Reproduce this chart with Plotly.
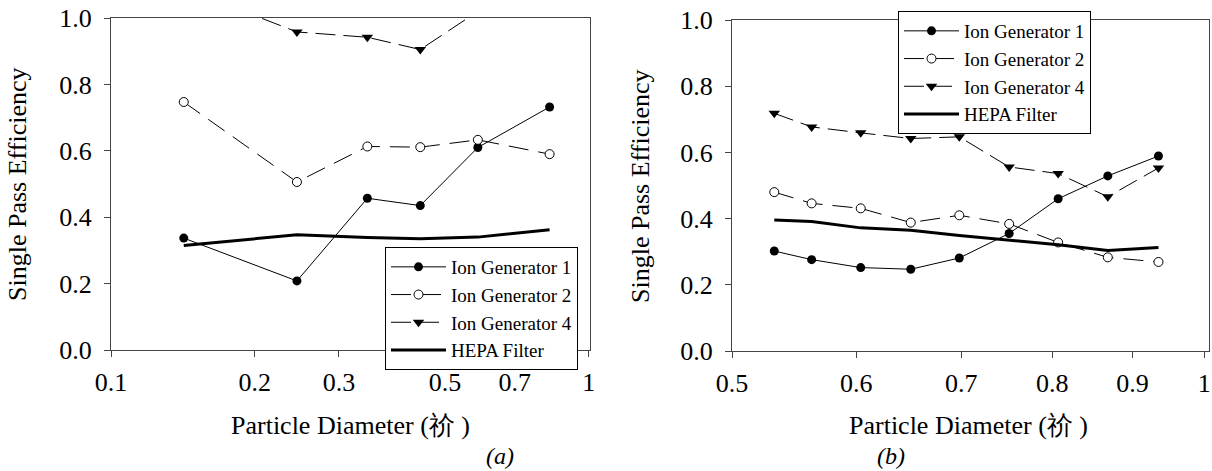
import plotly.graph_objects as go
import math

# ---- data (a) ----
a_diam = [0.142, 0.245, 0.344, 0.444, 0.586, 0.828]
a_ion1 = [0.337, 0.208, 0.457, 0.435, 0.610, 0.732]
a_ion2 = [0.747, 0.506, 0.613, 0.611, 0.633, 0.590]
a_ion4 = [1.09, 0.958, 0.942, 0.905, 1.02, 1.05]
a_hepa = [0.315, 0.347, 0.339, 0.335, 0.340, 0.362]
a_ticks = [0.1, 0.2, 0.3, 0.5, 0.7, 1]
a_ticktext = ["0.1", "0.2", "0.3", "0.5", "0.7", "1"]

# ---- data (b) ----
b_diam = [0.532, 0.562, 0.604, 0.650, 0.698, 0.751, 0.807, 0.868, 0.935]
b_ion1 = [0.302, 0.276, 0.252, 0.247, 0.281, 0.355, 0.460, 0.529, 0.589]
b_ion2 = [0.480, 0.446, 0.431, 0.388, 0.410, 0.384, 0.328, 0.283, 0.269]
b_ion4 = [0.718, 0.677, 0.659, 0.642, 0.647, 0.556, 0.536, 0.466, 0.553]
b_hepa = [0.396, 0.391, 0.372, 0.365, 0.349, 0.336, 0.321, 0.304, 0.313]
b_ticks = [0.5, 0.6, 0.7, 0.8, 0.9, 1]
b_ticktext = ["0.5", "0.6", "0.7", "0.8", "0.9", "1"]

y_ticks = [0.0, 0.2, 0.4, 0.6, 0.8, 1.0]
names = ["Ion Generator 1", "Ion Generator 2", "Ion Generator 4", "HEPA Filter"]

FONT = "Liberation Serif"
W, H = 1212, 471

fig = go.Figure()

def add_series(xs, ys_list, xa, ya, leg):
    styles = [
        dict(mode="lines+markers", line=dict(color="black", width=1),
             marker=dict(symbol="circle", size=9, color="black")),
        dict(mode="lines+markers", line=dict(color="black", width=1, dash="20px,10px"),
             marker=dict(symbol="circle", size=9, color="white", line=dict(color="black", width=1))),
        dict(mode="lines+markers", line=dict(color="black", width=1, dash="20px,8px"),
             marker=dict(symbol="triangle-down", size=10, color="black")),
        dict(mode="lines", line=dict(color="black", width=3)),
    ]
    for nm, ys, st in zip(names, ys_list, styles):
        fig.add_trace(go.Scatter(x=xs, y=ys, name=nm, xaxis=xa, yaxis=ya,
                                 legend=leg, **st))

add_series(a_diam, [a_ion1, a_ion2, a_ion4, a_hepa], "x", "y", "legend")
add_series(b_diam, [b_ion1, b_ion2, b_ion4, b_hepa], "x2", "y2", "legend2")

def px_x(p):
    return p / W

def px_y(p):
    return 1 - p / H

axis_common = dict(showgrid=False, zeroline=False, showline=True, linecolor="#444",
                   linewidth=1, mirror=True, ticks="outside", ticklen=6, tickcolor="#444",
                   automargin=False,
                   tickfont=dict(family=FONT, size=26, color="black"))

fig.update_layout(
    template="none",
    width=W, height=H, margin=dict(l=0, r=0, t=0, b=0),
    paper_bgcolor="white", plot_bgcolor="white",
    font=dict(family=FONT, color="black"),
    xaxis=dict(domain=[px_x(111), px_x(590)], type="log",
               range=[-1, math.log10(1.006)], tickvals=a_ticks, ticktext=a_ticktext,
               anchor="y", ticklabelstandoff=3, **axis_common),
    yaxis=dict(domain=[px_y(350), px_y(18)], range=[0, 1], tickvals=y_ticks,
               tickformat=".1f", anchor="x", ticklabelstandoff=7, **axis_common),
    xaxis2=dict(domain=[px_x(732), px_x(1209)], type="log",
                range=[math.log10(0.5), math.log10(1.007)], tickvals=b_ticks,
                ticktext=b_ticktext, anchor="y2", ticklabelstandoff=3, **axis_common),
    yaxis2=dict(domain=[px_y(351), px_y(20)], range=[0, 1], tickvals=y_ticks,
                tickformat=".1f", anchor="x2", ticklabelstandoff=7, **axis_common),
    legend=dict(x=px_x(385), y=px_y(247), xanchor="left", yanchor="top",
                bgcolor="white", bordercolor="black", borderwidth=1, itemwidth=55,
                font=dict(family=FONT, size=19, color="black"), tracegroupgap=0),
    legend2=dict(x=px_x(898), y=px_y(11), xanchor="left", yanchor="top",
                 bgcolor="white", bordercolor="black", borderwidth=1, itemwidth=55,
                 font=dict(family=FONT, size=19, color="black"), tracegroupgap=0),
    showlegend=True,
)

ann_font = dict(family=FONT, size=26, color="black")
annotations = [
    dict(text="Single Pass Efficiency", x=px_x(17), y=px_y(185), textangle=-90),
    dict(text="Single Pass Efficiency", x=px_x(640), y=px_y(186), textangle=-90),
    dict(text="Particle Diameter (祄 )", x=px_x(350), y=px_y(425)),
    dict(text="Particle Diameter (祄 )", x=px_x(968), y=px_y(425)),
]
for a in annotations:
    fig.add_annotation(xref="paper", yref="paper", showarrow=False,
                       xanchor="center", yanchor="middle", font=ann_font, **a)
for txt, xp in [("<i>(a)</i>", 500), ("<i>(b)</i>", 891)]:
    fig.add_annotation(xref="paper", yref="paper", showarrow=False, text=txt,
                       x=px_x(xp), y=px_y(456), xanchor="center", yanchor="middle",
                       font=dict(family=FONT, size=24, color="black"))

fig.write_html("out.html", config={"displayModeBar": False},
               post_script="document.body.style.margin='0';document.body.style.padding='0';document.body.style.overflow='hidden';")
